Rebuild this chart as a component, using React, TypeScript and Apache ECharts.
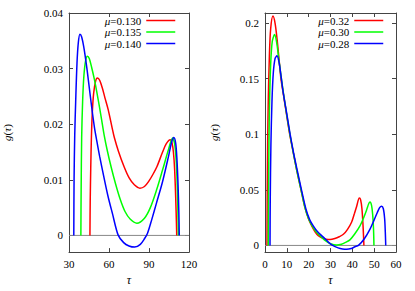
import React, { useEffect, useRef } from "react";
import * as echarts from "echarts";

// ---- Left panel data (tau, g) ----
const leftNames = ["μ=0.130", "μ=0.135", "μ=0.140"];
const leftRed: number[][] = [
  [45.7, 0], [45.9, 0.006], [46.3, 0.012], [46.8, 0.0176], [47.5, 0.0222], [48.5, 0.0256],
  [50, 0.0278], [51.4, 0.0283], [53, 0.0279], [55, 0.0265], [57, 0.0247], [59.3, 0.0227],
  [62.3, 0.0194], [64, 0.0176], [67, 0.0152], [71.4, 0.0123], [75, 0.0104], [79, 0.0091],
  [83.2, 0.0085], [86.6, 0.0088], [90, 0.0098], [93, 0.011], [96, 0.0124], [100.2, 0.015],
  [103, 0.0165], [105.9, 0.0172], [107.3, 0.0166], [108.3, 0.015], [109.2, 0.012],
  [110, 0.007], [110.6, 0.002], [110.8, 0],
];
const leftGreen: number[][] = [
  [38.9, 0], [39.1, 0.008], [39.5, 0.0176], [40.2, 0.024], [41.2, 0.0288], [42.5, 0.0315],
  [43.8, 0.0322], [45.2, 0.0318], [47, 0.0302], [49, 0.0281], [51, 0.0256], [53, 0.0229],
  [55, 0.02], [56.4, 0.018], [58.5, 0.0155], [61.6, 0.0123], [65, 0.0092], [68.4, 0.0065],
  [72, 0.0043], [76, 0.0029], [80.9, 0.0022], [86.6, 0.0031], [91, 0.005], [95.7, 0.0082],
  [100.2, 0.0118], [104.8, 0.0156], [107.7, 0.0175], [109.2, 0.0165], [110.5, 0.013],
  [111.3, 0.008], [111.8, 0.003], [112, 0],
];
const leftBlue: number[][] = [
  [33.6, 0], [33.8, 0.01], [34.3, 0.018], [35, 0.024], [36, 0.031], [37, 0.0347],
  [38.2, 0.0362], [39.5, 0.0357], [41, 0.034], [43, 0.0308], [45, 0.027], [47, 0.0231],
  [49.1, 0.0194], [50.7, 0.0172], [53, 0.0142], [55.9, 0.0108], [59.3, 0.007], [62.5, 0.004],
  [66.8, 0.0001], [71, -0.0013], [75, -0.0019], [79.3, -0.0021], [83.5, -0.0016],
  [86.6, -0.0006], [88.9, 0.0004], [92, 0.0028], [95.7, 0.0059], [100.2, 0.0097],
  [104.8, 0.0144], [107, 0.0168], [108.6, 0.0176], [110, 0.0166], [111, 0.0135],
  [111.8, 0.009], [112.4, 0.004], [112.7, 0],
];
const leftXTicks = [30, 60, 90, 120];
const leftYTicks = [0, 0.01, 0.02, 0.03, 0.04];

// ---- Right panel data (tau, g) ----
const rightNames = ["μ=0.32", "μ=0.30", "μ=0.28"];
const rightRed: number[][] = [
  [0.9, 0], [1.0, 0.04], [1.2, 0.09], [1.5, 0.13], [2, 0.17], [2.6, 0.195], [3.66, 0.2063],
  [4.6, 0.2], [5.5, 0.186], [6.5, 0.166], [7.3, 0.15], [8.5, 0.135], [10, 0.116],
  [11.3, 0.1], [13, 0.083], [14.5, 0.068], [16.5, 0.05], [18.3, 0.034], [20, 0.0235],
  [21.4, 0.0176], [23, 0.012], [24.4, 0.0088], [26.5, 0.0065], [28, 0.0056], [29.8, 0.0053],
  [32, 0.0062], [34, 0.0078], [35.9, 0.01], [37.8, 0.0145], [39.7, 0.0211], [41, 0.029],
  [42, 0.0353], [43.2, 0.0426], [43.8, 0.041], [44.4, 0.033], [44.9, 0.018], [45.2, 0.005],
  [45.3, 0],
];
const rightGreen: number[][] = [
  [1.5, 0], [1.6, 0.04], [1.8, 0.09], [2.1, 0.13], [2.6, 0.163], [3.3, 0.183], [4.4, 0.1896],
  [5.3, 0.183], [6.3, 0.168], [7.5, 0.15], [8.5, 0.136], [10, 0.117], [11.4, 0.1],
  [13, 0.083], [14.5, 0.068], [16.5, 0.05], [18.3, 0.034], [20, 0.0238], [21.6, 0.0176],
  [23.5, 0.012], [25.2, 0.0088], [27.5, 0.0045], [30, 0.0015], [32.8, 0.0003], [35, 0.001],
  [37, 0.0028], [38.9, 0.005], [41, 0.01], [43.5, 0.0176], [45.2, 0.025], [46.6, 0.0323],
  [47.5, 0.0375], [48.1, 0.039], [48.8, 0.036], [49.3, 0.028], [49.7, 0.015], [49.9, 0],
];
const rightBlue: number[][] = [
  [2.3, 0], [2.4, 0.04], [2.7, 0.09], [3.2, 0.13], [3.8, 0.155], [4.6, 0.168], [5.5, 0.1705],
  [6.4, 0.165], [7.3, 0.153], [8.3, 0.138], [10, 0.118], [11.5, 0.1], [13, 0.084],
  [14.6, 0.069], [16.7, 0.05], [18.8, 0.0323], [20.5, 0.023], [22.1, 0.0176], [24, 0.0125],
  [26.7, 0.0075], [29, 0.003], [31, 0], [33.5, -0.0022], [35.5, -0.0032], [37.4, -0.0035],
  [39.5, -0.0028], [41.2, -0.0012], [42.8, 0], [45.5, 0.006], [48.1, 0.0147], [50, 0.023],
  [51.4, 0.0294], [52.5, 0.034], [53.4, 0.0353], [54.2, 0.033], [54.8, 0.024], [55.1, 0.012],
  [55.3, 0],
];
const rightXTicks = [0, 10, 20, 30, 40, 50, 60];
const rightYTicks = [0, 0.05, 0.1, 0.15, 0.2];

const colors = ["#ff0000", "#00ff00", "#0000ff"];
const FONT = "Liberation Serif";
const FRAME = "#444";

function App() {
  const ref = useRef<HTMLDivElement>(null);
  useEffect(() => {
    if (!ref.current) return;
    const chart = echarts.init(ref.current, null, { renderer: "svg" });

    const xAxisBase = (gridIndex: number, min: number, max: number, interval: number, top: boolean) => ({
      type: "value",
      gridIndex,
      min,
      max,
      interval,
      position: top ? "top" : "bottom",
      axisLine: { show: true, onZero: false, lineStyle: { color: FRAME, width: 1 } },
      axisTick: { show: true, inside: true, length: 4, lineStyle: { color: FRAME } },
      axisLabel: {
        show: !top,
        margin: 6,
        color: "#000",
        fontFamily: FONT,
        fontSize: 11,
      },
      splitLine: { show: false },
      name: top ? "" : "{i|τ}",
      nameLocation: "middle",
      nameGap: 19,
      nameTextStyle: {
        color: "#000",
        fontFamily: FONT,
        fontSize: 12,
        rich: { i: { fontStyle: "italic", fontFamily: FONT, fontSize: 12, color: "#000" } },
      },
    });

    const yAxisBase = (gridIndex: number, min: number, max: number, ticks: number[], right: boolean, gap: number) => ({
      type: "value",
      gridIndex,
      min,
      max,
      position: right ? "right" : "left",
      axisLine: { show: true, onZero: false, lineStyle: { color: FRAME, width: 1 } },
      axisTick: { show: true, inside: true, length: 4, customValues: ticks, lineStyle: { color: FRAME } },
      axisLabel: {
        show: !right,
        customValues: ticks,
        margin: 6,
        color: "#000",
        fontFamily: FONT,
        fontSize: 11,
        formatter: (v: number) => String(v),
      },
      splitLine: { show: false },
      name: right ? "" : "{i|g}({i|τ})",
      nameLocation: "middle",
      nameGap: gap,
      nameRotate: 90,
      nameTextStyle: {
        color: "#000",
        fontFamily: FONT,
        fontSize: 11,
        rich: { i: { fontStyle: "italic", fontFamily: FONT, fontSize: 11, color: "#000" } },
      },
    });

    const curve = (name: string, data: number[][], color: string, xi: number, yi: number) => ({
      type: "line",
      name,
      data,
      xAxisIndex: xi,
      yAxisIndex: yi,
      symbol: "none",
      smooth: 0.3,
      lineStyle: { color, width: 1.5 },
      itemStyle: { color },
      z: 3,
    });

    const zeroLine = (xmin: number, xmax: number, xi: number, yi: number) => ({
      type: "line",
      data: [[xmin, 0], [xmax, 0]],
      xAxisIndex: xi,
      yAxisIndex: yi,
      symbol: "none",
      silent: true,
      lineStyle: { color: "#888", width: 1 },
      z: 2,
    });

    const legendBase = (data: string[], right: number) => ({
      data,
      right,
      top: 15,
      orient: "vertical",
      align: "right",
      padding: 0,
      itemWidth: 29,
      itemHeight: 10,
      itemGap: 0.5,
      selectedMode: false,
      itemStyle: { opacity: 0 },
      lineStyle: { width: 1.5 },
      formatter: (n: string) => "{i|μ}" + n.slice(1),
      textStyle: {
        color: "#000",
        fontFamily: FONT,
        fontSize: 11,
        lineHeight: 10,
        rich: {
          i: { fontStyle: "italic", fontFamily: FONT, fontSize: 11, color: "#000", lineHeight: 10 },
        },
      },
    });

    chart.setOption({
      animation: false,
      backgroundColor: "#fff",
      grid: [
        { left: 57, top: 13, width: 132, height: 244 },
        { left: 265, top: 13, width: 131, height: 244 },
      ],
      legend: [legendBase(leftNames, 239), legendBase(rightNames, 31)],
      xAxis: [
        xAxisBase(0, leftXTicks[0], leftXTicks[leftXTicks.length - 1], 30, false),
        xAxisBase(0, leftXTicks[0], leftXTicks[leftXTicks.length - 1], 30, true),
        xAxisBase(1, rightXTicks[0], rightXTicks[rightXTicks.length - 1], 10, false),
        xAxisBase(1, rightXTicks[0], rightXTicks[rightXTicks.length - 1], 10, true),
      ],
      yAxis: [
        yAxisBase(0, -0.003, 0.04, leftYTicks, false, 57),
        yAxisBase(0, -0.003, 0.04, leftYTicks, true, 0),
        yAxisBase(1, -0.006, 0.209, rightYTicks, false, 46),
        yAxisBase(1, -0.006, 0.209, rightYTicks, true, 0),
      ],
      series: [
        zeroLine(leftXTicks[0], leftXTicks[leftXTicks.length - 1], 0, 0),
        curve(leftNames[0], leftRed, colors[0], 0, 0),
        curve(leftNames[1], leftGreen, colors[1], 0, 0),
        curve(leftNames[2], leftBlue, colors[2], 0, 0),
        zeroLine(rightXTicks[0], rightXTicks[rightXTicks.length - 1], 2, 2),
        curve(rightNames[0], rightRed, colors[0], 2, 2),
        curve(rightNames[1], rightGreen, colors[1], 2, 2),
        curve(rightNames[2], rightBlue, colors[2], 2, 2),
      ],
    });
    return () => chart.dispose();
  }, []);
  return (
    <div
      ref={ref}
      style={{ position: "absolute", left: 0, top: 0, width: 415, height: 291, background: "#fff" }}
    />
  );
}

export default App;
